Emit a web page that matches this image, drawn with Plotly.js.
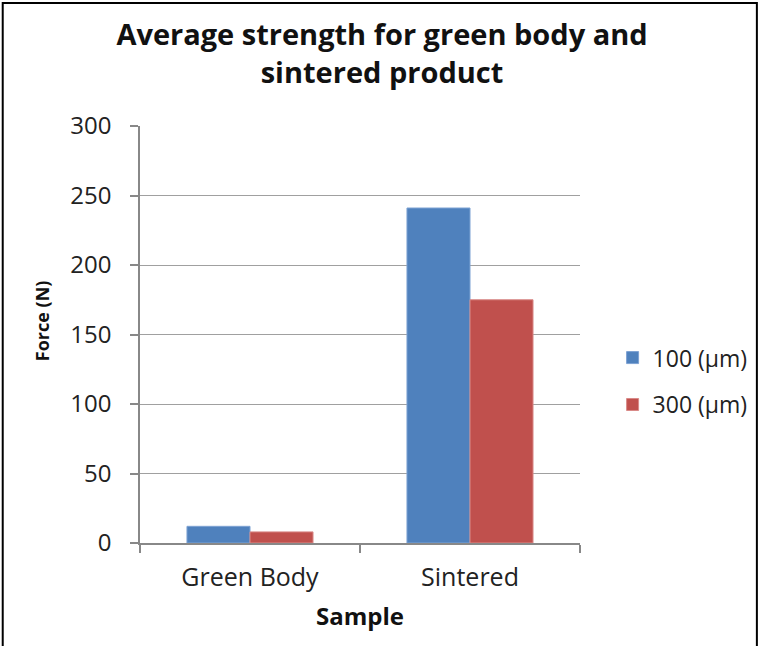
<!DOCTYPE html>
<html>
<head>
<meta charset="utf-8">
<script src="https://cdn.plot.ly/plotly-3.0.1.min.js"></script>
<style>
html,body{margin:0;padding:0;background:#fff;}
#chart{width:761px;height:646px;}
</style>
</head>
<body>
<div id="chart"></div>
<script>
const categories = ["Green Body", "Sintered"];
const seriesNames = ["100 (\u03bcm)", "300 (\u03bcm)"];
const values100 = [12, 241];
const values300 = [8, 175];
const yTicks = [0, 50, 100, 150, 200, 250, 300];

const font = "'Open Sans', 'Noto Sans', sans-serif";

const traces = [
  {type: "bar", x: categories, y: values100, name: seriesNames[0], legendgroup: "a",
   marker: {color: "#4F81BD", line: {color: "#7DA2D3", width: 1}}},
  {type: "bar", x: categories, y: values300, name: seriesNames[1], legendgroup: "b",
   marker: {color: "#C0504D", line: {color: "#D98A88", width: 1}}}
];

const layout = {
  width: 761, height: 646,
  margin: {l: 140, r: 181, t: 126, b: 103},
  paper_bgcolor: "#fff", plot_bgcolor: "#fff",
  font: {family: font, color: "#222"},
  title: {text: "<b>Average strength for green body and<br>sintered product</b>",
          x: 0.502, xanchor: "center", y: 0.93, yanchor: "top",
          font: {size: 29, family: font, color: "#111"}},
  barmode: "group", bargap: 0.427, bargroupgap: 0,
  xaxis: {
    title: {text: "<b>Sample</b>", font: {size: 24, color: "#111"}, standoff: 16},
    tickfont: {size: 25, color: "#222"},
    showline: true, linecolor: "#888", linewidth: 1.5,
    ticks: "outside", tickson: "boundaries", ticklen: 8, tickcolor: "#888", tickwidth: 1.5,
    ticklabelstandoff: 11,
    showgrid: false
  },
  yaxis: {
    tickfont: {size: 24, color: "#222"},
    range: [0, 300], tickvals: yTicks, ticktext: yTicks.map(String),
    showline: true, linecolor: "#888", linewidth: 1.5,
    ticks: "outside", ticklen: 8, tickcolor: "#888", tickwidth: 1.5,
    ticklabelstandoff: 14,
    showgrid: true, gridcolor: "#a0a0a0", gridwidth: 1.2, zeroline: false
  },
  annotations: [{text: "<b>Force (N)</b>", xref: "paper", yref: "paper",
                 x: -0.2227, y: 0.532, xanchor: "center", yanchor: "middle",
                 textangle: -90, showarrow: false,
                 font: {size: 18, family: font, color: "#111"}}],
  legend: {xref: "container", yref: "container", x: 0.805, xanchor: "left",
           y: 0.41, yanchor: "middle",
           font: {size: 23, color: "#222"}, tracegroupgap: 14, itemwidth: 30},
  shapes: [{type: "rect", xref: "paper", yref: "paper",
            x0: -0.312, x1: 1.402, y0: -0.35, y1: 1.295,
            line: {color: "#000", width: 2}, fillcolor: "rgba(0,0,0,0)", layer: "below"}]
};

Plotly.newPlot("chart", traces, layout, {displayModeBar: false});
</script>
</body>
</html>
